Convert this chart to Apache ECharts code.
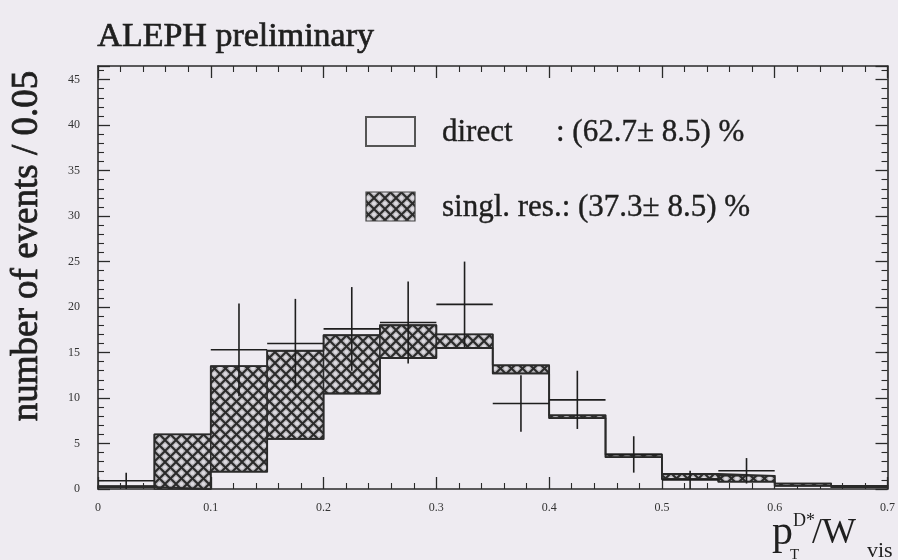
<!DOCTYPE html>
<html>
<head>
<meta charset="utf-8">
<script src="https://cdn.jsdelivr.net/npm/echarts@6/dist/echarts.min.js"></script>
<style>
  html, body { margin: 0; padding: 0; background: #eeebf1; }
  #chart { width: 898px; height: 560px; }
</style>
</head>
<body>
<div id="chart"></div>
<script>
// Histogram bins in pT(D*)/W_vis, width 0.05
const binLow = [0.00, 0.05, 0.10, 0.15, 0.20, 0.25, 0.30, 0.35, 0.40, 0.45, 0.50, 0.55, 0.60, 0.65];
const binWidth = 0.05;
// Fitted sum (direct + single resolved) per bin
const totalFit = [0.3, 6.0, 13.5, 15.2, 16.9, 18.0, 17.0, 13.6, 8.1, 3.8, 1.65, 1.45, 0.6, 0.35];
// Direct component per bin (the resolved part sits on top of it)
const directFit = [0.2, 0.0, 1.9, 5.5, 10.5, 14.4, 15.5, 12.7, 7.8, 3.5, 1.1, 0.8, 0.35, 0.2];
// Measured points: bin centres, counts and errors
const dataX = [0.025, 0.125, 0.175, 0.225, 0.275, 0.325, 0.375, 0.425, 0.475, 0.525, 0.575];
const dataY = [0.9, 15.3, 16.0, 17.6, 18.3, 20.3, 9.4, 9.8, 3.8, 1.0, 2.0];
const dataErr = [0.9, 5.1, 4.9, 4.6, 4.5, 4.7, 3.1, 3.2, 2.0, 1.0, 1.4];

const legendDirect = ['direct', ': (62.7\u00b1 8.5) %'];
const legendResolved = 'singl. res.: (37.3\u00b1 8.5) %';

const SERIF = '"Liberation Serif", "DejaVu Serif", serif';
const INK = '#2a2a2a';
const TEXT = '#1f1f1f';

// Cross-hatch fill used for the resolved component
function makeHatch() {
  const s = 11;
  const c = document.createElement('canvas');
  c.width = s; c.height = s;
  const g = c.getContext('2d');
  g.fillStyle = '#b3b1b6';
  g.fillRect(0, 0, s, s);
  // light centres of the diamond cells
  g.fillStyle = '#dcdae0';
  [[s / 2, 0], [0, s / 2], [s, s / 2], [s / 2, s]].forEach(function (p) {
    g.beginPath(); g.arc(p[0], p[1], 2.0, 0, Math.PI * 2); g.fill();
  });
  g.strokeStyle = '#2a2a2a';
  g.lineWidth = 2.0;
  for (let dx = -s; dx <= s; dx += s) {
    g.beginPath(); g.moveTo(dx, 0); g.lineTo(dx + s, s); g.stroke();
    g.beginPath(); g.moveTo(dx + s, 0); g.lineTo(dx, s); g.stroke();
  }
  return c;
}
const hatch = { image: makeHatch(), repeat: 'repeat' };

function stepPoints(values) {
  const pts = binLow.map(function (x, i) { return [x, values[i]]; });
  pts.push([binLow[binLow.length - 1] + binWidth, values[values.length - 1]]);
  return pts;
}

const chart = echarts.init(document.getElementById('chart'), null, { renderer: 'canvas' });

function axis(extra) {
  return Object.assign({
    type: 'value',
    axisLine: { show: true, onZero: false, lineStyle: { color: INK, width: 1.6 } },
    axisTick: { show: true, inside: true, length: 12, lineStyle: { color: INK, width: 1.3 } },
    minorTick: { show: true, splitNumber: 5, length: 6, lineStyle: { color: INK, width: 1.1 } },
    splitLine: { show: false },
    minorSplitLine: { show: false }
  }, extra);
}

// slightly heavier strokes for the large lettering
function heavy(style, w) {
  return Object.assign({ fill: TEXT, stroke: TEXT, lineWidth: w }, style);
}

const option = {
  backgroundColor: '#eeebf1',
  animation: false,
  grid: { left: 98, right: 10, top: 66, bottom: 71, containLabel: false },
  xAxis: [
    axis({ min: 0, max: 0.7, interval: 0.1, position: 'bottom',
      axisLabel: { color: '#333', fontFamily: SERIF, fontSize: 12, margin: 13 } }),
    axis({ min: 0, max: 0.7, interval: 0.1, position: 'top', axisLabel: { show: false } })
  ],
  yAxis: [
    axis({ min: 0, max: 46.5, interval: 5, position: 'left',
      axisLabel: { color: '#333', fontFamily: SERIF, fontSize: 12, margin: 18,
                   showMaxLabel: false, padding: [4, 0, 0, 0] } }),
    axis({ min: 0, max: 46.5, interval: 5, position: 'right', axisLabel: { show: false } })
  ],
  series: [
    {
      // hatched band between direct and total
      type: 'custom',
      xAxisIndex: 0, yAxisIndex: 0,
      data: binLow.map(function (x, i) { return [x, x + binWidth, directFit[i], totalFit[i]]; }),
      renderItem: function (params, api) {
        const a = api.coord([api.value(0), api.value(3)]);
        const b = api.coord([api.value(1), api.value(2)]);
        return {
          type: 'rect',
          shape: { x: a[0], y: a[1], width: b[0] - a[0], height: b[1] - a[1] },
          style: { fill: hatch, stroke: INK, lineWidth: 1.4 }
        };
      },
      z: 2
    },
    {
      type: 'line', step: 'end', data: stepPoints(totalFit),
      symbol: 'none', lineStyle: { color: INK, width: 1.8 }, z: 3
    },
    {
      type: 'line', step: 'end', data: stepPoints(directFit),
      symbol: 'none', lineStyle: { color: INK, width: 1.8 }, z: 3
    },
    {
      // measured points with error bars
      type: 'custom',
      data: dataX.map(function (x, i) { return [x, dataY[i], dataErr[i]]; }),
      renderItem: function (params, api) {
        const x = api.value(0), y = api.value(1), e = api.value(2);
        const l = api.coord([x - binWidth / 2, y]);
        const r = api.coord([x + binWidth / 2, y]);
        const t = api.coord([x, y + e]);
        const d = api.coord([x, Math.max(0, y - e)]);
        const st = { stroke: '#1e1e1e', lineWidth: 1.6 };
        return {
          type: 'group',
          children: [
            { type: 'line', shape: { x1: l[0], y1: l[1], x2: r[0], y2: r[1] }, style: st },
            { type: 'line', shape: { x1: t[0], y1: t[1], x2: d[0], y2: d[1] }, style: st }
          ]
        };
      },
      z: 4
    }
  ],
  graphic: [
    { type: 'text', left: 97, top: 20,
      style: heavy({ text: 'ALEPH preliminary', font: '34px ' + SERIF }, 0.7) },
    { type: 'text', x: 27, y: 246, rotation: Math.PI / 2,
      style: heavy({ text: 'number of events / 0.05', font: '37px ' + SERIF,
                     align: 'center', verticalAlign: 'middle' }, 0.8) },
    // legend
    { type: 'rect', shape: { x: 366, y: 117, width: 49, height: 29 },
      style: { fill: 'none', stroke: '#555', lineWidth: 2 } },
    { type: 'rect', shape: { x: 366, y: 192, width: 49, height: 29 },
      style: { fill: hatch, stroke: '#444', lineWidth: 1.2 } },
    { type: 'text', x: 442, y: 133,
      style: heavy({ text: legendDirect[0], font: '31px ' + SERIF, verticalAlign: 'middle' }, 0.4) },
    { type: 'text', x: 556, y: 133,
      style: heavy({ text: legendDirect[1], font: '31px ' + SERIF, verticalAlign: 'middle' }, 0.4) },
    { type: 'text', x: 442, y: 208,
      style: heavy({ text: legendResolved, font: '31px ' + SERIF, verticalAlign: 'middle' }, 0.4) },
    // x-axis title: p_T^{D*} / W_vis
    { type: 'text', x: 772, y: 533,
      style: { text: 'p', font: '42px ' + SERIF, fill: TEXT, verticalAlign: 'middle' } },
    { type: 'text', x: 790, y: 555,
      style: { text: 'T', font: '15px ' + SERIF, fill: TEXT, verticalAlign: 'middle' } },
    { type: 'text', x: 793, y: 521,
      style: { text: 'D*', font: '18px ' + SERIF, fill: TEXT, verticalAlign: 'middle' } },
    { type: 'text', x: 812, y: 534,
      style: { text: '/W', font: '36px ' + SERIF, fill: TEXT, verticalAlign: 'middle' } },
    { type: 'text', x: 867, y: 551,
      style: { text: 'vis', font: '22px ' + SERIF, fill: TEXT, verticalAlign: 'middle' } }
  ]
};

chart.setOption(option);
</script>
</body>
</html>
